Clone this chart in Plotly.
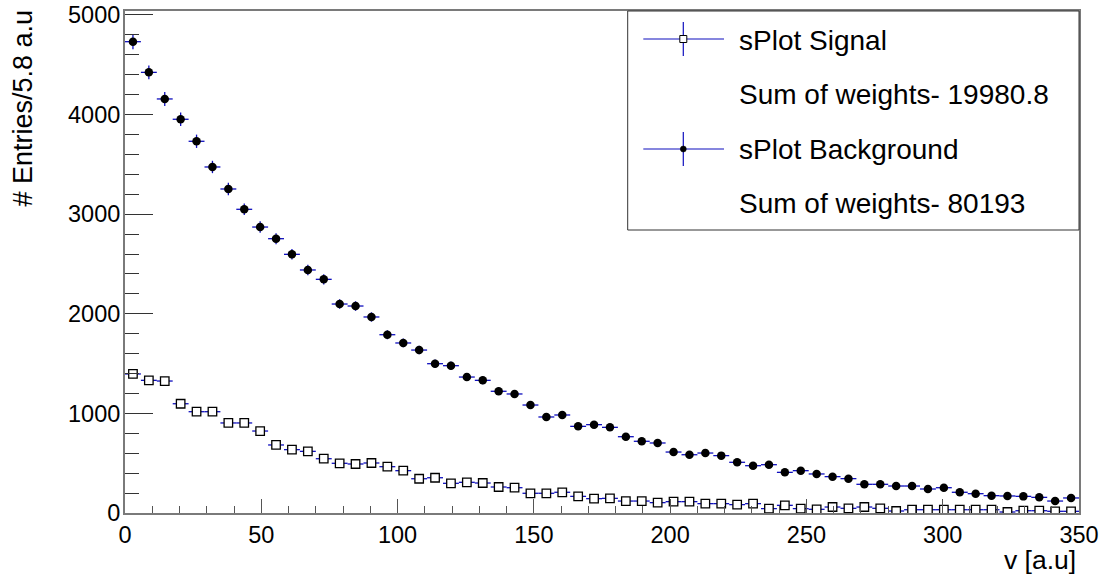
import plotly.graph_objects as go

# ---- data ----
n_bins = 60
x_min, x_max = 0.0, 350.0
bin_width = (x_max - x_min) / n_bins
bin_centers = [x_min + (i + 0.5) * bin_width for i in range(n_bins)]

background = [4732, 4424, 4157, 3953, 3732, 3474, 3253, 3049, 2871, 2754,
              2597, 2440, 2346, 2098, 2078, 1968, 1790, 1707, 1636, 1499,
              1479, 1365, 1332, 1222, 1195, 1084, 964, 984, 870, 887,
              860, 766, 720, 703, 612, 585, 602, 576, 509, 475,
              485, 408, 425, 392, 365, 345, 288, 288, 271, 271,
              241, 254, 208, 194, 174, 171, 167, 157, 120, 151]
background_err = [75, 70, 70, 67, 67, 62, 62, 58, 58, 55,
                  53, 52, 51, 48, 48, 47, 45, 44, 43, 42,
                  41, 40, 39, 38, 37, 36, 35, 35, 34, 34,
                  33, 32, 32, 31, 30, 30, 30, 29, 28, 28,
                  28, 27, 27, 26, 26, 25, 24, 24, 24, 24,
                  23, 23, 22, 22, 21, 21, 21, 21, 20, 20]

signal = [1396, 1332, 1325, 1097, 1017, 1017, 904, 904, 823, 683,
          636, 619, 545, 499, 492, 502, 465, 425, 344, 354,
          298, 308, 301, 261, 254, 198, 198, 208, 167, 144,
          147, 120, 120, 104, 114, 114, 94, 94, 84, 94,
          44, 77, 44, 37, 60, 47, 60, 47, 20, 33,
          33, 33, 33, 33, 33, 10, 23, 23, 17, 17]
signal_err = [42, 41, 41, 39, 38, 38, 37, 37, 36, 35,
              35, 35, 34, 34, 34, 34, 33, 33, 32, 32,
              32, 32, 32, 31, 31, 31, 31, 31, 30, 30,
              30, 30, 30, 30, 30, 30, 30, 30, 30, 30,
              30, 30, 30, 30, 30, 30, 30, 30, 30, 30,
              30, 30, 30, 30, 30, 30, 30, 30, 30, 30]

legend_labels = ["sPlot Signal", "Sum of weights- 19980.8",
                 "sPlot Background", "Sum of weights- 80193"]
x_title = "v [a.u]"
y_title = "# Entries/5.8 a.u"

# ---- style ----
FONT = "Liberation Sans, Arial, Helvetica, sans-serif"
ERR_COLOR = "rgb(15,15,190)"
FRAME = "#7a7a7a"

fig = go.Figure()

fig.add_trace(go.Scatter(
    x=bin_centers, y=background, mode="markers", name="sPlot Background",
    marker=dict(symbol="circle", size=8.5, color="black", line=dict(width=0)),
    error_x=dict(type="constant", value=bin_width / 2, color=ERR_COLOR, thickness=1.3, width=0),
    error_y=dict(type="data", array=background_err, color=ERR_COLOR, thickness=1.3, width=0),
    showlegend=False, cliponaxis=True,
))
fig.add_trace(go.Scatter(
    x=bin_centers, y=signal, mode="markers", name="sPlot Signal",
    marker=dict(symbol="square", size=8.5, color="white", line=dict(width=1.3, color="black")),
    error_x=dict(type="constant", value=bin_width / 2, color=ERR_COLOR, thickness=1.3, width=0),
    error_y=dict(type="data", array=signal_err, color=ERR_COLOR, thickness=1.3, width=0),
    showlegend=False, cliponaxis=True,
))

W, H = 1102, 577
L, R, T, B = 125, 1102 - 1079, 11, 577 - 513
pw, ph = W - L - R, H - T - B


def px(xp):
    return (xp - L) / pw


def py(yp):
    return (H - B - yp) / ph


shapes = []
# legend box
shapes.append(dict(type="rect", xref="paper", yref="paper",
                   x0=px(627.7), x1=1.0, y0=py(230), y1=1.0,
                   line=dict(color="#333333", width=1), fillcolor="white", layer="above"))
# legend samples
for yc, kind in [(39, "square"), (149, "circle")]:
    shapes.append(dict(type="line", xref="paper", yref="paper",
                       x0=px(643.3), x1=px(724), y0=py(yc), y1=py(yc),
                       line=dict(color=ERR_COLOR, width=1.2), layer="above"))
    shapes.append(dict(type="line", xref="paper", yref="paper",
                       x0=px(683.3), x1=px(683.3), y0=py(yc - 17), y1=py(yc + 17),
                       line=dict(color=ERR_COLOR, width=1.2), layer="above"))
    if kind == "square":
        shapes.append(dict(type="rect", xref="paper", yref="paper",
                           x0=px(683.3 - 3.5), x1=px(683.3 + 3.5),
                           y0=py(yc + 3.5), y1=py(yc - 3.5),
                           line=dict(color="black", width=1), fillcolor="white", layer="above"))
    else:
        shapes.append(dict(type="circle", xref="paper", yref="paper",
                           x0=px(683.3 - 3), x1=px(683.3 + 3),
                           y0=py(yc + 3), y1=py(yc - 3),
                           line=dict(color="black", width=0.5), fillcolor="black", layer="above"))

annotations = []
for lab, yc in zip(legend_labels, [41, 95, 149, 203]):
    annotations.append(dict(text=lab, xref="paper", yref="paper", x=px(736.7), y=py(yc),
                            xanchor="left", yanchor="middle", showarrow=False,
                            font=dict(family=FONT, size=28, color="black")))
annotations.append(dict(text=x_title, xref="paper", yref="paper", x=px(1078), y=py(560),
                        xanchor="right", yanchor="middle", showarrow=False,
                        font=dict(family=FONT, size=26.5, color="black")))
annotations.append(dict(text=y_title, xref="paper", yref="paper", x=px(22), y=py(8),
                        xanchor="center", yanchor="top", textangle=-90, showarrow=False,
                        font=dict(family=FONT, size=27, color="black")))

fig.update_layout(
    width=W, height=H,
    margin=dict(l=L, r=R, t=T, b=B, pad=0, autoexpand=False),
    paper_bgcolor="white", plot_bgcolor="white",
    font=dict(family=FONT, color="black"),
    shapes=shapes, annotations=annotations,
    showlegend=False,
)
fig.update_xaxes(
    range=[x_min, x_max], dtick=50, tick0=0, automargin=False,
    ticks="inside", ticklen=14, tickwidth=1, tickcolor="#555555",
    minor=dict(dtick=10, ticks="inside", ticklen=7, tickwidth=1, tickcolor="#555555", showgrid=False),
    showline=True, linecolor=FRAME, linewidth=2, mirror=True,
    showgrid=False, zeroline=False,
    tickfont=dict(family=FONT, size=23.5, color="black"),
)
fig.update_yaxes(
    range=[0, 5040], dtick=1000, tick0=0, automargin=False,
    ticks="inside", ticklen=28, tickwidth=1, tickcolor="#333333",
    minor=dict(dtick=200, ticks="inside", ticklen=14, tickwidth=1, tickcolor="#333333", showgrid=False),
    showline=True, linecolor=FRAME, linewidth=2, mirror=True,
    showgrid=False, zeroline=False,
    tickfont=dict(family=FONT, size=23.5, color="black"),
    ticklabelstandoff=-2,
)

fig.write_html("out.html")
